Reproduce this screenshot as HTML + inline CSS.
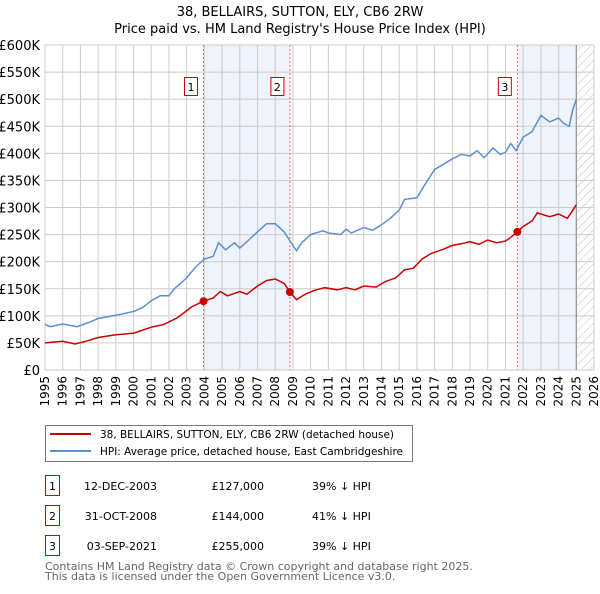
<!DOCTYPE html>
<html><head><meta charset="utf-8"><style>
body{margin:0;background:#fff;font-family:"DejaVu Sans","Liberation Sans",sans-serif;}
svg text{font-family:"DejaVu Sans","Liberation Sans",sans-serif;}
</style></head><body>
<svg id="chart" width="600" height="590" xmlns="http://www.w3.org/2000/svg">
<text x="300" y="16" font-size="13" text-anchor="middle">38, BELLAIRS, SUTTON, ELY, CB6 2RW</text>
<text x="300" y="33" font-size="13" text-anchor="middle">Price paid vs. HM Land Registry's House Price Index (HPI)</text>
<g id="plot"></g>
<g>
<rect x="45.5" y="425.5" width="367" height="36" fill="#fff" stroke="#777"/>
<line x1="50" y1="434" x2="91" y2="434" stroke="#cc0000" stroke-width="2"/>
<text x="100" y="438" font-size="10.5" textLength="294" lengthAdjust="spacingAndGlyphs">38, BELLAIRS, SUTTON, ELY, CB6 2RW (detached house)</text>
<line x1="50" y1="451" x2="91" y2="451" stroke="#5b8fd4" stroke-width="2"/>
<text x="100" y="455" font-size="10.5" textLength="303" lengthAdjust="spacingAndGlyphs">HPI: Average price, detached house, East Cambridgeshire</text>
</g>
<g font-size="11">
<g><rect x="45.5" y="475.5" width="14" height="20" fill="#fff" stroke="#cc0000"/><text x="52.5" y="490" text-anchor="middle">1</text><text x="157" y="490" text-anchor="end">12-DEC-2003</text><text x="264" y="490" text-anchor="end">£127,000</text><text x="312" y="490">39% ↓ HPI</text></g>
<g><rect x="45.5" y="505.5" width="14" height="20" fill="#fff" stroke="#cc0000"/><text x="52.5" y="520" text-anchor="middle">2</text><text x="157" y="520" text-anchor="end">31-OCT-2008</text><text x="264" y="520" text-anchor="end">£144,000</text><text x="312" y="520">41% ↓ HPI</text></g>
<g><rect x="45.5" y="535.5" width="14" height="20" fill="#fff" stroke="#cc0000"/><text x="52.5" y="550" text-anchor="middle">3</text><text x="157" y="550" text-anchor="end">03-SEP-2021</text><text x="264" y="550" text-anchor="end">£255,000</text><text x="312" y="550">39% ↓ HPI</text></g>
</g>
<text x="45" y="570" font-size="11" fill="#666">Contains HM Land Registry data © Crown copyright and database right 2025.</text>
<text x="45" y="580" font-size="11" fill="#666">This data is licensed under the Open Government Licence v3.0.</text>
</svg>
<script>
const yTicks=[0,50,100,150,200,250,300,350,400,450,500,550,600];
const yearTicks=[1995,1996,1997,1998,1999,2000,2001,2002,2003,2004,2005,2006,2007,2008,2009,2010,2011,2012,2013,2014,2015,2016,2017,2018,2019,2020,2021,2022,2023,2024,2025,2026];
const hpiYears=[1995,1995.3,1996,1996.8,1997.5,1998,1999,2000,2000.5,2001,2001.5,2002,2002.3,2003,2003.5,2004,2004.5,2004.8,2005.2,2005.7,2006,2006.5,2007,2007.5,2008,2008.5,2008.8,2009.2,2009.5,2010,2010.7,2011,2011.7,2012,2012.3,2013,2013.5,2014,2014.5,2015,2015.3,2016,2016.5,2017,2017.5,2018,2018.5,2019,2019.4,2019.8,2020.3,2020.7,2021,2021.3,2021.6,2022,2022.5,2023,2023.5,2024,2024.3,2024.6,2024.8,2025];
const hpiValues=[84,80,85,80,88,95,101,108,115,128,137,137,150,170,190,205,210,235,222,235,225,240,255,270,270,255,240,220,235,250,257,253,250,260,253,263,258,268,280,295,315,318,345,370,380,390,398,395,405,392,410,398,402,418,405,430,440,470,458,465,455,450,480,500];
const ppYears=[1995,1996,1996.7,1997.3,1998,1999,2000,2001,2001.7,2002.5,2003.3,2003.95,2004.5,2004.9,2005.3,2006,2006.4,2007,2007.5,2008,2008.5,2008.83,2009.2,2009.7,2010.2,2010.8,2011.5,2012,2012.5,2013,2013.7,2014.2,2014.8,2015.3,2015.8,2016.3,2016.8,2017.5,2018,2018.5,2019,2019.5,2020,2020.5,2021,2021.3,2021.67,2022,2022.5,2022.8,2023.5,2024,2024.5,2024.7,2025];
const ppValues=[50,53,48,53,60,65,68,79,84,97,117,127,133,145,137,145,140,155,165,168,160,144,130,140,147,152,148,152,148,155,153,163,170,185,188,205,215,223,230,233,237,232,240,235,238,245,255,265,275,290,283,288,280,290,305];
const saleLabels=["1","2","3"];
const saleYears=[2003.95,2008.83,2021.67];
const saleValues=[127,144,255];
const shadeEnds=[2008.83,2025];

const X0=45,X1=594,Y0=370,Y1=45;
const x=y=>X0+(y-1995)/31*(X1-X0);
const yv=v=>Y0-v/600*(Y0-Y1);
const NS="http://www.w3.org/2000/svg";
const g=document.getElementById('plot');
function mk(tag,attrs,parent){const e=document.createElementNS(NS,tag);for(const k in attrs)e.setAttribute(k,attrs[k]);(parent||g).appendChild(e);return e;}

saleYears.forEach((s,i)=>{if(i===1)return;
 const r=mk('rect',{x:x(s),y:Y1,width:x(shadeEnds[i===0?0:1])-x(s),height:Y0-Y1,fill:'#eef3fc'});
 
 
});
const defs=mk('defs',{});
const pat=mk('pattern',{id:'hatch',width:6,height:6,patternUnits:'userSpaceOnUse',patternTransform:'rotate(45)'},defs);
mk('line',{x1:0,y1:0,x2:0,y2:6,stroke:'#bbb','stroke-width':1},pat);
const hz=mk('rect',{x:x(2025),y:Y1,width:X1-x(2025),height:Y0-Y1,fill:'url(#hatch)'});



yearTicks.forEach(t=>{
 const l=mk('line',{x1:x(t),x2:x(t),y1:Y1,y2:Y0,stroke:'#ccc','stroke-width':1});
 
 
 const tx=mk('text',{x:0,y:0,'font-size':12,'text-anchor':'end',transform:`translate(${x(t)+4},${Y0+6}) rotate(-90)`});
 tx.textContent=t;
 
 
});
yTicks.forEach(t=>{
 const l=mk('line',{x1:X0,x2:X1,y1:yv(t),y2:yv(t),stroke:'#ccc','stroke-width':1});
 
 
 const tx=mk('text',{x:X0-5,y:yv(t)+5,'font-size':13,'text-anchor':'end'});
 tx.textContent=t===0?'£0':'£'+t+'K';
 
 
});
const dl=mk('line',{x1:x(2025),x2:x(2025),y1:Y1,y2:Y0,stroke:'#888','stroke-width':1});



saleYears.forEach((s,i)=>{
 const l=mk('line',{x1:x(s),x2:x(s),y1:Y1,y2:Y0,stroke:'#e06666','stroke-width':1,'stroke-dasharray':'2,2'});
 
 
});

function path(xs,vs,col,name){
 const d=xs.map((t,i)=>(i?'L':'M')+x(t).toFixed(1)+','+yv(vs[i]).toFixed(1)).join('');
 const p=mk('path',{d:d,fill:'none',stroke:col,'stroke-width':1.5});
 
 
}
path(hpiYears,hpiValues,'#5b8fd4','hpi-line');
path(ppYears,ppValues,'#cc0000','price-paid-line');

saleYears.forEach((s,i)=>{
 const c=mk('circle',{cx:x(s),cy:yv(saleValues[i]),r:4,fill:'#cc0000'});
 
 
 const b=mk('rect',{x:x(s)-19,y:77.5,width:13,height:18,fill:'#fff',stroke:'#cc0000'});
 
 
 const t=mk('text',{x:x(s)-12.5,y:91,'font-size':11,'text-anchor':'middle'});
 t.textContent=saleLabels[i];
 
 
});
</script>
</body></html>
